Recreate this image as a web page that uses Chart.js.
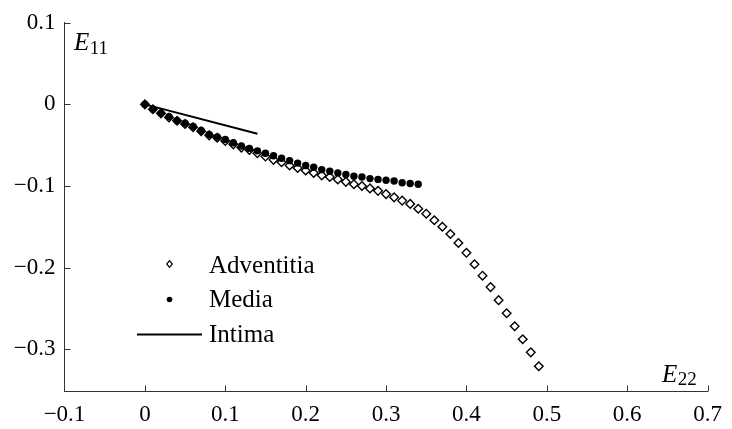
<!DOCTYPE html>
<html>
<head>
<meta charset="utf-8">
<script src="https://cdn.jsdelivr.net/npm/chart.js@4"></script>
<style>
  html, body { margin: 0; padding: 0; background: #fff; }
  #wrap { width: 732px; height: 429px; }
</style>
</head>
<body>
<div id="wrap"><canvas id="c" width="732" height="429"></canvas></div>
<script>
// ---- Data ----
const advE22 = [0,0.01,0.02,0.03,0.04,0.05,0.06,0.07,0.08,0.09,0.10,0.11,0.12,0.13,0.14,0.15,0.16,0.17,0.18,0.19,0.20,0.21,0.22,0.23,0.24,0.25,0.26,0.27,0.28,0.29,0.30,0.31,0.32,0.33,0.34,0.35,0.36,0.37,0.38,0.39,0.40,0.41,0.42,0.43,0.44,0.45,0.46,0.47,0.48,0.49];
const advE11 = [0,-0.006,-0.011,-0.016,-0.020,-0.024,-0.028,-0.033,-0.038,-0.041,-0.045,-0.049,-0.053,-0.056,-0.060,-0.064,-0.068,-0.071,-0.075,-0.078,-0.081,-0.084,-0.087,-0.089,-0.092,-0.095,-0.098,-0.100,-0.103,-0.106,-0.110,-0.114,-0.118,-0.122,-0.128,-0.134,-0.142,-0.150,-0.159,-0.170,-0.182,-0.196,-0.210,-0.224,-0.240,-0.256,-0.272,-0.288,-0.304,-0.321];
const medE22 = [0,0.01,0.02,0.03,0.04,0.05,0.06,0.07,0.08,0.09,0.10,0.11,0.12,0.13,0.14,0.15,0.16,0.17,0.18,0.19,0.20,0.21,0.22,0.23,0.24,0.25,0.26,0.27,0.28,0.29,0.30,0.31,0.32,0.33,0.34];
const medE11 = [0,-0.006,-0.011,-0.015,-0.020,-0.023,-0.027,-0.032,-0.037,-0.040,-0.043,-0.047,-0.051,-0.054,-0.057,-0.060,-0.063,-0.066,-0.069,-0.072,-0.075,-0.077,-0.080,-0.082,-0.084,-0.086,-0.088,-0.089,-0.091,-0.092,-0.093,-0.094,-0.096,-0.097,-0.098];
const intE22 = [0, 0.14];
const intE11 = [0, -0.036];
const seriesNames = ['Adventitia', 'Media', 'Intima'];
const xTickValues = [-0.1, 0, 0.1, 0.2, 0.3, 0.4, 0.5, 0.6, 0.7];
const yTickValues = [-0.3, -0.2, -0.1, 0, 0.1];
const xRange = [-0.1, 0.7];
const yRange = [-0.352, 0.1];

const SERIF = '"Liberation Serif", "Times New Roman", serif';
const toPts = (xs, ys) => xs.map((x, i) => ({ x: x, y: ys[i] }));
const fmt = v => {
  const r = Math.round(v * 10) / 10;
  if (r === 0) return '0';
  return (r < 0 ? '\u2212' : '') + Math.abs(r).toString();
};

const decor = {
  id: 'decor',
  afterDraw(chart) {
    const ctx = chart.ctx;
    const xs = chart.scales.x, ys = chart.scales.y;
    const a = chart.chartArea;
    ctx.save();
    // inward ticks
    ctx.strokeStyle = '#333';
    ctx.lineWidth = 1;
    ctx.beginPath();
    xs.ticks.forEach(t => {
      const px = Math.round(xs.getPixelForValue(t.value)) + 0.5;
      if (Math.abs(px - a.left) < 2) return;
      ctx.moveTo(px, a.bottom);
      ctx.lineTo(px, a.bottom - 6);
    });
    ys.ticks.forEach(t => {
      const py = Math.round(ys.getPixelForValue(t.value)) + 0.5;
      ctx.moveTo(a.left, py);
      ctx.lineTo(a.left + 6, py);
    });
    ctx.stroke();

    // axis titles (italic E with subscripts)
    ctx.fillStyle = '#000';
    ctx.textBaseline = 'alphabetic';
    ctx.textAlign = 'left';
    const drawE = (x, y, sub) => {
      ctx.font = 'italic 25px ' + SERIF;
      ctx.fillText('E', x, y);
      const w = ctx.measureText('E').width;
      ctx.font = '19px ' + SERIF;
      ctx.fillText(sub, x + w + 0.5, y + 3.5);
    };
    drawE(74, 50, '11');
    drawE(662, 381.5, '22');

    // legend
    const lx = 169.5;
    ctx.fillStyle = '#fff';
    ctx.strokeStyle = '#000';
    ctx.lineWidth = 1.2;
    ctx.beginPath();
    ctx.moveTo(lx, 264 - 3.4);
    ctx.lineTo(lx + 2.8, 264);
    ctx.lineTo(lx, 264 + 3.4);
    ctx.lineTo(lx - 2.8, 264);
    ctx.closePath();
    ctx.fill();
    ctx.stroke();
    ctx.fillStyle = '#000';
    ctx.beginPath();
    ctx.arc(lx, 299.5, 2.8, 0, Math.PI * 2);
    ctx.fill();
    ctx.lineWidth = 2;
    ctx.beginPath();
    ctx.moveTo(137, 334.5);
    ctx.lineTo(202, 334.5);
    ctx.stroke();
    ctx.font = '25px ' + SERIF;
    ctx.fillText(seriesNames[0], 209, 272.5);
    ctx.fillText(seriesNames[1], 209, 307);
    ctx.fillText(seriesNames[2], 209, 342);
    ctx.restore();
  }
};

new Chart(document.getElementById('c'), {
  type: 'scatter',
  data: {
    datasets: [
      {
        label: seriesNames[2],
        data: toPts(intE22, intE11),
        showLine: true,
        borderColor: '#000',
        borderWidth: 2,
        pointRadius: 0,
        fill: false
      },
      {
        label: seriesNames[1],
        data: toPts(medE22, medE11),
        pointStyle: 'circle',
        pointRadius: 3.7,
        backgroundColor: '#000',
        borderColor: '#000',
        borderWidth: 0
      },
      {
        label: seriesNames[0],
        data: toPts(advE22, advE11),
        pointStyle: 'rectRot',
        pointRadius: 4.3,
        backgroundColor: '#fff',
        borderColor: '#000',
        borderWidth: 1.4
      }
    ]
  },
  options: {
    responsive: false,
    animation: false,
    events: [],
    layout: { padding: { top: 20.5, right: 17, left: 0, bottom: 0 } },
    plugins: { legend: { display: false }, tooltip: { enabled: false } },
    scales: {
      x: {
        type: 'linear',
        min: xRange[0], max: xRange[1],
        afterBuildTicks: s => { s.ticks = xTickValues.map(v => ({ value: v })); },
        afterFit: s => { s.height = 37.5; },
        grid: { display: true, drawOnChartArea: false, drawTicks: false },
        border: { display: true, color: '#333', width: 1 },
        ticks: {
          callback: v => fmt(v),
          color: '#000',
          padding: 10,
          maxRotation: 0,
          autoSkip: false,
          font: { family: SERIF, size: 23 }
        }
      },
      y: {
        type: 'linear',
        min: yRange[0], max: yRange[1],
        afterBuildTicks: s => { s.ticks = yTickValues.map(v => ({ value: v })); },
        afterFit: s => { s.width = 64.5; },
        grid: { display: true, drawOnChartArea: false, drawTicks: false },
        border: { display: true, color: '#333', width: 1 },
        ticks: {
          callback: v => fmt(v),
          color: '#000',
          padding: 9,
          autoSkip: false,
          font: { family: SERIF, size: 23 }
        }
      }
    }
  },
  plugins: [decor]
});
</script>
</body>
</html>
